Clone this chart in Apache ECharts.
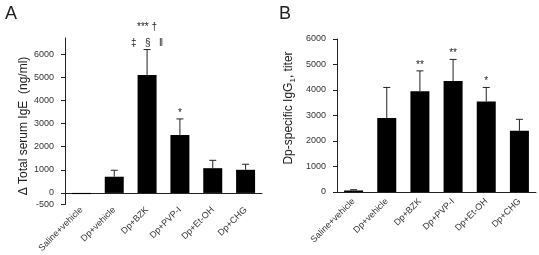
<!DOCTYPE html>
<html>
<head>
<meta charset="utf-8">
<script src="https://cdn.jsdelivr.net/npm/echarts@6/dist/echarts.min.js"></script>
<style>
  html, body { margin: 0; padding: 0; background: #fff; }
  #chart { width: 539px; height: 255px; }
</style>
</head>
<body>
<div id="chart"></div>
<script>
const groups = ['Saline+vehicle', 'Dp+vehicle', 'Dp+BZK', 'Dp+PVP-I', 'Dp+Et-OH', 'Dp+CHG']

// panel A: delta total serum IgE (ng/ml)
const igeMean = [-50, 700, 5100, 2500, 1070, 1000]
const igeSd = [0, 280, 1100, 700, 340, 240]
const igeNotes = [[], [], ['*** \u2020', '\u2021   \u00a7   \u2016'], ['*'], [], []]
const igeTicks = [-500, 0, 1000, 2000, 3000, 4000, 5000, 6000]

// panel B: Dp-specific IgG1 titer
const iggMean = [60, 2900, 3950, 4350, 3550, 2400]
const iggSd = [30, 1200, 800, 850, 550, 450]
const iggNotes = [[], [], ['**'], ['**'], ['*'], []]
const iggTicks = [0, 1000, 2000, 3000, 4000, 5000, 6000]

const font = '"Liberation Sans", Arial, sans-serif'
const ink = '#222'

const chart = echarts.init(document.getElementById('chart'))

function errorSeries(xIdx, yIdx, mean, sd, notes) {
  return {
    type: 'custom',
    xAxisIndex: xIdx,
    yAxisIndex: yIdx,
    z: 5,
    data: mean.map((m, i) => [i, m, sd[i]]),
    renderItem: function (params, api) {
      const i = api.value(0)
      const m = api.value(1)
      const s = api.value(2)
      const base = api.coord([i, m])
      const top = api.coord([i, m + s])
      const children = []
      if (s > 0) {
        children.push({
          type: 'line',
          shape: { x1: base[0], y1: base[1], x2: top[0], y2: top[1] },
          style: { stroke: ink, lineWidth: 1 }
        })
        children.push({
          type: 'line',
          shape: { x1: top[0] - 3.5, y1: top[1], x2: top[0] + 3.5, y2: top[1] },
          style: { stroke: ink, lineWidth: 1 }
        })
      }
      const lines = notes[params.dataIndex]
      lines.forEach((t, k) => {
        const off = 6 + (lines.length - 1 - k) * 16
        children.push({
          type: 'text',
          x: top[0],
          y: top[1] - off,
          style: {
            text: t, fill: ink, font: '10px ' + font,
            align: 'center', verticalAlign: 'middle'
          }
        })
      })
      return { type: 'group', children: children }
    }
  }
}

function valueAxis(grid, min, max, ticks) {
  return {
    type: 'value',
    gridIndex: grid,
    min: min,
    max: max,
    splitLine: { show: false },
    axisLine: { show: true, lineStyle: { color: ink, width: 1 } },
    axisTick: { show: true, length: 4, customValues: ticks, lineStyle: { color: ink } },
    axisLabel: {
      customValues: ticks, margin: 11, color: '#333', fontSize: 9, fontFamily: font,
      formatter: v => String(v)
    }
  }
}

function labelStyle(margin) {
  return { rotate: 45, margin: margin, color: '#333', fontSize: 9, fontFamily: font, interval: 0 }
}

const option = {
  animation: false,
  backgroundColor: '#fff',
  grid: [
    { left: 65, top: 38, width: 197, height: 169 },
    { left: 337, top: 39, width: 199, height: 153 }
  ],
  xAxis: [
    {
      type: 'category', gridIndex: 0, data: groups,
      axisLine: { onZero: true, lineStyle: { color: ink } },
      axisTick: { length: 4, lineStyle: { color: ink } },
      axisLabel: { show: false }
    },
    {
      type: 'category', gridIndex: 0, data: groups, position: 'bottom',
      axisLine: { show: false, onZero: false },
      axisTick: { show: false },
      axisLabel: labelStyle(4)
    },
    {
      type: 'category', gridIndex: 1, data: groups,
      axisLine: { lineStyle: { color: ink } },
      axisTick: { length: 4, lineStyle: { color: ink } },
      axisLabel: labelStyle(8)
    }
  ],
  yAxis: [
    valueAxis(0, -500, 6700, igeTicks),
    valueAxis(1, 0, 6000, iggTicks)
  ],
  series: [
    {
      type: 'bar', xAxisIndex: 0, yAxisIndex: 0, data: igeMean,
      barWidth: 19, itemStyle: { color: '#000' }
    },
    errorSeries(0, 0, igeMean, igeSd, igeNotes),
    {
      type: 'bar', xAxisIndex: 2, yAxisIndex: 1, data: iggMean,
      barWidth: 19, itemStyle: { color: '#000' }
    },
    errorSeries(2, 1, iggMean, iggSd, iggNotes)
  ],
  graphic: [
    { type: 'text', x: 5, y: 5, style: { text: 'A', font: '18px ' + font, fill: ink } },
    { type: 'text', x: 279, y: 5, style: { text: 'B', font: '18px ' + font, fill: ink } },
    {
      type: 'text', x: 24, y: 126, rotation: Math.PI / 2,
      style: {
        text: '\u0394 Total serum IgE  (ng/ml)', font: '12px ' + font, fill: ink,
        align: 'center', verticalAlign: 'middle'
      }
    },
    {
      type: 'text', x: 289, y: 108, rotation: Math.PI / 2,
      style: {
        text: 'Dp-specific IgG{sub|1}, titer', font: '12px ' + font, fill: ink,
        align: 'center', verticalAlign: 'middle',
        rich: { sub: { fontSize: 8, fontFamily: font, padding: [7, 0, 0, 0] } }
      }
    }
  ]
}

chart.setOption(option)
</script>
</body>
</html>
